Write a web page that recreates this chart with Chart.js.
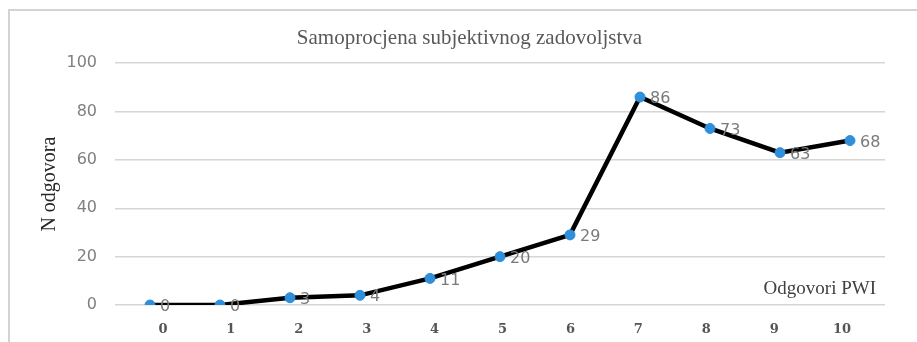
<!DOCTYPE html>
<html>
<head>
<meta charset="utf-8">
<script src="https://cdn.jsdelivr.net/npm/chart.js@4.4.1/dist/chart.umd.min.js"></script>
<style>
  html, body { margin: 0; padding: 0; background: #ffffff; }
  #wrap { width: 917px; height: 342px; position: relative; }
</style>
</head>
<body>
<div id="wrap"><canvas id="chart" width="917" height="342"></canvas></div>
<script>
// Answers on the PWI scale and the number of respondents for each
const categories = ['0', '1', '2', '3', '4', '5', '6', '7', '8', '9', '10'];
const responses = [0, 0, 3, 4, 11, 20, 29, 86, 73, 63, 68];
const yTicks = [0, 20, 40, 60, 80, 100];

const chartTitle = 'Samoprocjena subjektivnog zadovoljstva';
const yTitle = 'N odgovora';
const xTitle = 'Odgovori PWI';

// Light frame around the whole chart
const framePlugin = {
  id: 'frame',
  beforeDraw(chart) {
    const ctx = chart.ctx;
    ctx.save();
    ctx.fillStyle = '#ffffff';
    ctx.fillRect(0, 0, chart.width, chart.height);
    ctx.strokeStyle = '#d3d3d3';
    ctx.lineWidth = 2;
    ctx.strokeRect(9, 10, chart.width + 20, chart.height + 20);
    ctx.restore();
  }
};

// Value labels to the right of each point, plus the x title inside the plot
const labelsPlugin = {
  id: 'valueLabels',
  afterDatasetsDraw(chart) {
    const ctx = chart.ctx;
    const meta = chart.getDatasetMeta(0);
    ctx.save();
    ctx.font = '16px "DejaVu Sans"';
    ctx.fillStyle = '#7a7a7a';
    ctx.textAlign = 'left';
    ctx.textBaseline = 'middle';
    meta.data.forEach((pt, i) => {
      ctx.fillText(String(responses[i]), pt.x + 10, pt.y + 2);
    });
    const area = chart.chartArea;
    ctx.font = '19px "Liberation Serif"';
    ctx.fillStyle = '#404040';
    ctx.textAlign = 'right';
    ctx.fillText(xTitle, area.right - 9, area.bottom - 16);
    ctx.restore();
  }
};

new Chart(document.getElementById('chart'), {
  type: 'line',
  data: {
    labels: categories,
    datasets: [{
      data: responses,
      borderColor: '#000000',
      borderWidth: 4.5,
      pointRadius: 5,
      pointHoverRadius: 5,
      pointBackgroundColor: '#2f8fdb',
      pointBorderColor: '#2f8fdb',
      pointBorderWidth: 1,
      tension: 0,
      fill: false
    }]
  },
  options: {
    responsive: false,
    animation: false,
    events: [],
    layout: { padding: { left: 54, right: 32, top: 0, bottom: 0 } },
    plugins: {
      legend: { display: false },
      tooltip: { enabled: false },
      title: {
        display: true,
        text: chartTitle,
        color: '#595959',
        font: { family: '"Liberation Serif"', size: 21, weight: 'normal' },
        padding: { top: 26, bottom: 12 }
      }
    },
    scales: {
      x: {
        type: 'category',
        offset: true,
        display: false
      },
      xl: {
        type: 'linear',
        position: 'bottom',
        min: -0.706,
        max: 10.632,
        grid: { display: false },
        border: { display: false },
        afterBuildTicks(scale) {
          scale.ticks = categories.map((c, i) => ({ value: i }));
        },
        afterFit(scale) { scale.height = 37; },
        ticks: {
          autoSkip: false,
          maxRotation: 0,
          padding: 9,
          color: '#555555',
          font: { family: '"DejaVu Serif"', size: 13, weight: 'bold' },
          callback: (v) => categories[v]
        }
      },
      y: {
        min: 0,
        max: 100,
        afterBuildTicks(scale) {
          scale.ticks = yTicks.map(v => ({ value: v }));
        },
        afterFit(scale) { scale.width = 61; },
        grid: { color: '#d6d6d6', lineWidth: 1.5, drawTicks: false },
        border: { display: false },
        ticks: {
          padding: 18,
          color: '#7f7f7f',
          font: { family: '"DejaVu Sans"', size: 16 }
        },
        title: {
          display: true,
          text: yTitle,
          color: '#262626',
          font: { family: '"Liberation Serif"', size: 20 },
          padding: { top: -16, bottom: 0 }
        }
      }
    }
  },
  plugins: [framePlugin, labelsPlugin]
});
</script>
</body>
</html>
